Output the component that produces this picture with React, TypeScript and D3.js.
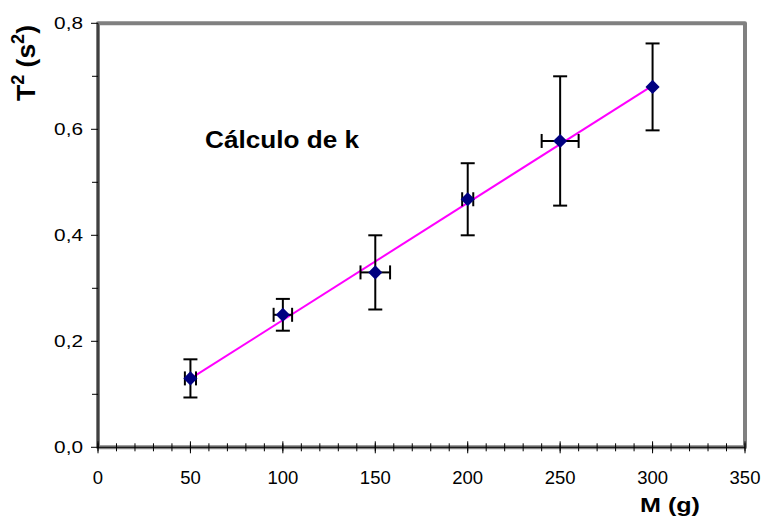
import React from 'react'
import * as d3 from 'd3'

// masa colgada (g) y periodo al cuadrado (s^2)
const massG = [50, 100, 150, 200, 250, 300]
const periodSq = [0.13, 0.25, 0.33, 0.468, 0.578, 0.68]
const errPeriodSq = [0.036, 0.03, 0.07, 0.068, 0.122, 0.082]
const errMass = [3, 5, 8, 3, 10, 0]

const xTicks = [0, 50, 100, 150, 200, 250, 300, 350]
const xMinorTicks = d3.range(0, 351, 10)
const yTicks = [0, 0.2, 0.4, 0.6, 0.8]
const yMinorTicks = [0.1, 0.3, 0.5, 0.7]

const chartTitle = 'Cálculo de k'
const xTitle = 'M (g)'

const W = 763
const H = 520
const FONT = 'Arial, "Liberation Sans", sans-serif'

const es = d3.formatLocale({ decimal: ',', thousands: '.', grouping: [3], currency: ['', '€'] })
const fmtY = es.format('.1f')

const App = () => {
    const x = d3.scaleLinear().domain([0, 350]).range([98, 745])
    const y = d3.scaleLinear().domain([0, 0.8]).range([447.3, 23.3])

    // recta de ajuste por minimos cuadrados
    const mx = d3.mean(massG) as number
    const my = d3.mean(periodSq) as number
    const sxy = d3.sum(massG, (m, i) => (m - mx) * (periodSq[i] - my))
    const sxx = d3.sum(massG, m => (m - mx) * (m - mx))
    const slope = sxy / sxx
    const icpt = my - slope * mx
    const x0 = d3.min(massG) as number
    const x1 = d3.max(massG) as number
    const fitLine = d3.line<number>().x(m => x(m)).y(m => y(icpt + slope * m))([x0, x1])

    const diamond = d3.symbol(d3.symbolSquare, 100)() as string

    const [r0, r1] = x.range()
    const [b0, t0] = y.range()

    return (
        <svg width={W} height={H} style={{ position: 'absolute', left: 0, top: 0, background: '#fff' }}>
            {/* marco del area de trazado */}
            <rect x={r0} y={t0} width={r1 - r0} height={b0 - t0} fill="none"
                stroke="#808080" strokeWidth={4} strokeLinejoin="round" />
            <line x1={r0} x2={r1} y1={b0} y2={b0} stroke="#000" strokeWidth={1} />
            <line x1={r0} x2={r0} y1={b0} y2={t0} stroke="#000" strokeWidth={1} />

            {xMinorTicks.map(t => (
                <line key={'xm' + t} x1={x(t)} x2={x(t)} y1={b0 - 4} y2={b0 + 4} stroke="#000" />
            ))}
            {xTicks.map(t => (
                <g key={'x' + t}>
                    <line x1={x(t)} x2={x(t)} y1={b0 - 6} y2={b0 + 6} stroke="#000" />
                    <text x={x(t)} y={484} textAnchor="middle" fontFamily={FONT} fontSize={18.5}>{t}</text>
                </g>
            ))}
            {yMinorTicks.map(t => (
                <line key={'ym' + t} x1={r0 - 6} x2={r0} y1={y(t)} y2={y(t)} stroke="#000" />
            ))}
            {yTicks.map(t => (
                <g key={'y' + t}>
                    <line x1={r0 - 7} x2={r0} y1={y(t)} y2={y(t)} stroke="#000" />
                    <g transform={`translate(83,${y(t) + 6}) scale(1.3,1)`}>
                        <text textAnchor="end" fontFamily={FONT} fontSize={16}>{fmtY(t)}</text>
                    </g>
                </g>
            ))}

            <path d={fitLine as string} fill="none" stroke="#ff00ff" strokeWidth={2} />

            {massG.map((m, i) => {
                const cx = x(m)
                const cy = y(periodSq[i])
                const yt = y(periodSq[i] + errPeriodSq[i])
                const yb = y(periodSq[i] - errPeriodSq[i])
                const xl = x(m - errMass[i])
                const xr = x(m + errMass[i])
                return (
                    <g key={'e' + i} stroke="#000" strokeWidth={2}>
                        <line x1={cx} x2={cx} y1={yt} y2={yb} />
                        <line x1={cx - 7} x2={cx + 7} y1={yt} y2={yt} />
                        <line x1={cx - 7} x2={cx + 7} y1={yb} y2={yb} />
                        {errMass[i] > 0 && (
                            <>
                                <line x1={xl} x2={xr} y1={cy} y2={cy} />
                                <line x1={xl} x2={xl} y1={cy - 7} y2={cy + 7} />
                                <line x1={xr} x2={xr} y1={cy - 7} y2={cy + 7} />
                            </>
                        )}
                    </g>
                )
            })}
            {massG.map((m, i) => (
                <path key={'p' + i} d={diamond} fill="#000080"
                    transform={`translate(${x(m)},${y(periodSq[i])}) rotate(45)`} />
            ))}

            <text x={205} y={148} fontFamily={FONT} fontSize={24} fontWeight="bold"
                textLength={154} lengthAdjust="spacingAndGlyphs">{chartTitle}</text>

            <text x={640} y={512} fontFamily={FONT} fontSize={21} fontWeight="bold"
                textLength={60} lengthAdjust="spacingAndGlyphs">{xTitle}</text>

            <g transform="translate(35,101) rotate(-90) scale(1,1.2)">
                <text fontFamily={FONT} fontSize={22} fontWeight="bold" textLength={76} lengthAdjust="spacingAndGlyphs">
                    T<tspan dy={-9} fontSize={15}>2</tspan><tspan dy={9}> (s</tspan><tspan dy={-9} fontSize={15}>2</tspan><tspan dy={9}>)</tspan>
                </text>
            </g>
        </svg>
    )
}

export default App
